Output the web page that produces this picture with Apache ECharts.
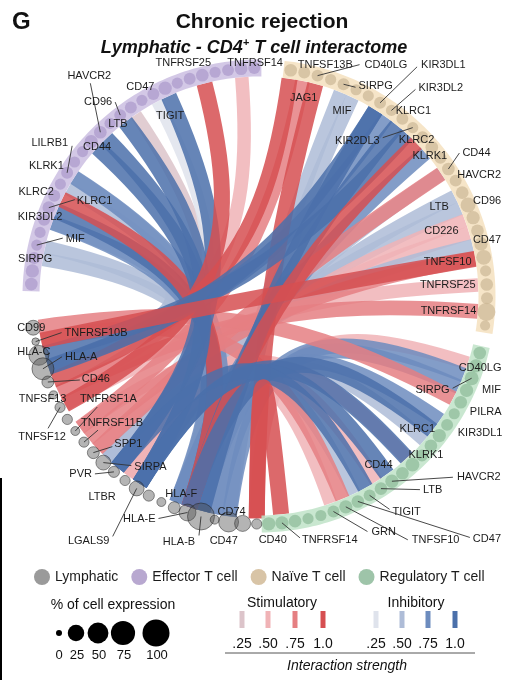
<!DOCTYPE html>
<html><head><meta charset="utf-8">
<script src="https://cdn.jsdelivr.net/npm/echarts@6/dist/echarts.min.js"></script>
<style>html,body{margin:0;padding:0;background:#fff}#c{width:518px;height:680px}</style>
</head><body><div id="c"></div>
<script>
// ================= DATA =================
// Node order along each arc ('' = unlabeled bubble)
const LYMPH_NODES = ['CD99','TNFRSF10B','HLA-C','HLA-A','CD46','TNFSF13','TNFSF12','','TNFRSF1A','TNFRSF11B','SPP1','SIRPA','PVR','LTBR','LGALS9','','','HLA-F','HLA-E','HLA-B','CD47','CD74','','CD40'];
const LYMPH_PCT   = [18,0.5,44,58,8,1,4,4,2,4,8,18,6,4,18,6,2,8,27,100,2,44,23,4];

const EFF_NODES = ['','','SIRPG','MIF','','KIR3DL2','KLRC1','KLRC2','KLRK1','LILRB1','','','CD44','HAVCR2','','CD96','LTB','','CD47','TIGIT','','','TNFRSF25','','','TNFRSF14',''];
const EFF_PCT   = [10,12,8,6,6,8,10,8,6,8,6,6,12,10,6,8,8,6,8,12,6,8,10,6,8,10,8];

const NAIVE_NODES = ['JAG1','TNFSF13B','CD40LG','','SIRPG','MIF','','KIR3DL1','KIR3DL2','KLRC1','KIR2DL3','KLRC2','KLRK1','','CD44','','HAVCR2','CD96','LTB','CD226','CD47','TNFSF10','','TNFRSF25','','TNFRSF14',''];
const NAIVE_PCT   = [10,8,8,6,8,6,6,8,6,8,6,8,10,8,10,8,10,18,12,10,12,18,6,10,8,33,4];

const REG_NODES = ['','CD40LG','SIRPG','MIF','PILRA','','KIR3DL1','KLRC1','KLRK1','','CD44','','HAVCR2','LTB','TIGIT','CD47','TNFSF10','GRN','','','','TNFRSF14',''];
const REG_PCT   = [10,12,14,12,10,6,8,12,10,8,14,10,12,10,8,10,12,8,6,6,10,12,12];

// Interactions: lymphatic partner, T-cell partner (group:name), kind (S=stimulatory, I=inhibitory), strength
const LINK_LYMPH = ['CD47','CD74','HLA-F','HLA-A','HLA-E','HLA-E','HLA-B','HLA-B','HLA-F','LGALS9','LGALS9','PVR','LTBR','SIRPA','PVR','TNFSF12','TNFSF13',
  'CD46','TNFRSF1A','CD40','CD47','CD74','HLA-B','HLA-A','HLA-A','HLA-E','HLA-C','HLA-E','HLA-F','LGALS9','SPP1','LGALS9','PVR','LTBR','PVR','SIRPA','TNFRSF10B','TNFRSF11B','TNFSF12','TNFSF13',
  'CD40','CD47','CD74','CD99','HLA-B','HLA-E','HLA-E','SPP1','LGALS9','LGALS9','LTBR','PVR','SIRPA','TNFRSF10B','TNFRSF1A','CD40'];
const LINK_TCELL = ['E:SIRPG','E:MIF','E:KIR3DL2','E:KIR3DL2','E:KLRC1','E:KLRC2','E:KLRK1','E:LILRB1','E:LILRB1','E:CD44','E:HAVCR2','E:CD96','E:LTB','E:CD47','E:TIGIT','E:TNFRSF25','E:TNFRSF14',
  'N:JAG1','N:TNFSF13B','N:CD40LG','N:SIRPG','N:MIF','N:KIR3DL1','N:KIR3DL1','N:KIR3DL2','N:KLRC1','N:KIR2DL3','N:KLRC2','N:KLRK1','N:CD44','N:CD44','N:HAVCR2','N:CD96','N:LTB','N:CD226','N:CD47','N:TNFSF10','N:TNFSF10','N:TNFRSF25','N:TNFRSF14',
  'R:CD40LG','R:SIRPG','R:MIF','R:PILRA','R:KIR3DL1','R:KLRC1','R:KLRK1','R:CD44','R:CD44','R:HAVCR2','R:LTB','R:TIGIT','R:CD47','R:TNFSF10','R:GRN','R:TNFRSF14'];
const LINK_KIND = ['I','I','I','I','I','S','I','I','I','I','I','I','S','I','I','S','S',
  'S','S','S','I','I','I','I','I','I','I','S','I','I','S','I','I','S','S','I','S','S','S','S',
  'S','I','I','S','I','I','I','S','I','I','S','I','I','S','S','S'];
const LINK_STRENGTH = [0.5,0.5,0.75,0.5,1,1,0.5,0.75,0.5,1,1,1,0.25,0.25,1,1,0.5,
  1,0.75,1,0.5,0.5,1,1,0.75,1,1,1,0.75,0.5,0.75,0.5,0.5,0.5,0.5,0.5,1,0.75,0.5,0.75,
  0.5,0.75,0.75,0.75,0.75,1,0.5,0.5,1,1,0.5,1,0.5,0.75,0.5,1];

const STRENGTH_TICKS = [0.25,0.5,0.75,1.0];
const STRENGTH_LABELS = ['.25','.50','.75','1.0'];
const EXPR_TICKS = [0,25,50,75,100];
const GROUP_NAMES = {L:'Lymphatic', E:'Effector T cell', N:'Naïve T cell', R:'Regulatory T cell'};

// ================= LAYOUT / STYLE =================
const FONT = '"Liberation Sans", Arial, Helvetica, sans-serif';
const NODES = {L:LYMPH_NODES, E:EFF_NODES, N:NAIVE_NODES, R:REG_NODES};
const PCTS  = {L:LYMPH_PCT, E:EFF_PCT, N:NAIVE_PCT, R:REG_PCT};
const ARC   = {L:[188,269.42], E:[177,91.2], N:[82,-7.44], R:[-14.5,-87.54]};
const STIM_COLORS  = ['#dcc4ca','#f0b3b6','#e57f82','#d64f51'];
const INHIB_COLORS = ['#dfe3ec','#aebcd7','#6d8cbe','#4b70aa'];
const BUBBLE_COLOR = {L:'rgba(75,75,75,0.52)', E:'rgba(168,148,200,0.8)', N:'rgba(202,182,148,0.85)', R:'rgba(138,184,150,0.85)'};
const BAND_COLOR   = {E:'rgba(200,186,224,0.8)', N:'rgba(244,224,190,0.85)', R:'rgba(192,227,200,0.85)'};
const LEGEND_COLOR = {L:'#9a9a9a', E:'#b8a8d0', N:'#d8c4a6', R:'#9ec4a9'};

// label placement: group, name, text offset dx, dy, align, leader end dx, dy
const LABEL_LAYOUT = [
 ['L','CD99',-2,0,'center'],['L','TNFRSF10B',29,-9,'left',26,-9],['L','HLA-C',-5,-3,'center'],['L','HLA-A',22,-12,'left',19,-12],
 ['L','CD46',34,-3,'left',32,-2],['L','TNFSF13',-11,4,'center'],['L','TNFSF12',-18,30,'center',-12,21],['L','TNFRSF1A',33,-32,'center',22,-24],
 ['L','TNFRSF11B',28,-19,'center',14,-12],['L','SPP1',21,-9,'left',19,-6],['L','SIRPA',31,4,'left',28,3],['L','PVR',-22,2,'right',-19,2],
 ['L','LTBR',-23,16,'center'],['L','LGALS9',-48,53,'center',-24,48],['L','HLA-F',7,-14,'center'],['L','HLA-E',-32,6,'right',-29,6],
 ['L','HLA-B',-22,25,'center',-2,19],['L','CD47',9,21,'center'],['L','CD74',3,-10,'center'],['L','CD40',16,16,'center'],
 ['E','SIRPG',1,1,'center'],['E','MIF',29,-6,'left',26,-7],['E','KIR3DL2',-4,-3,'center'],['E','KLRC1',28,-7,'left',26,-8],
 ['E','KLRC2',-18,-4,'center'],['E','KLRK1',-14,-18,'center'],['E','LILRB1',1,-30,'right',5,-27],['E','CD44',6,5,'center'],
 ['E','HAVCR2',-11,-56,'center',-10,-49],['E','CD96',-8,-13,'right',-5,-13],['E','LTB',-13,17,'center'],['E','CD47',-13,-7,'center'],
 ['E','TIGIT',5,28,'center'],['E','TNFRSF25',-19,-12,'center'],['E','TNFRSF14',14,-6,'center'],
 ['N','JAG1',13,28,'center'],['N','TNFSF13B',21,-8,'center'],['N','CD40LG',47,-11,'left',42,-11],['N','SIRPG',15,2,'left',12,3],
 ['N','MIF',-14,21,'center'],['N','KIR3DL1',41,-38,'left',37,-36],['N','KIR3DL2',27,-22,'left',24,-21],['N','KLRC1',11,-8,'center'],
 ['N','KIR2DL3',-33,13,'right',-30,10],['N','KLRC2',-6,3,'center'],['N','KLRK1',-2,9,'center'],['N','CD44',14,-16,'left',11,-16],
 ['N','HAVCR2',17,-18,'center'],['N','CD96',19,-4,'center'],['N','LTB',-34,-11,'center'],['N','CD226',-36,0,'center'],
 ['N','CD47',6,-4,'center'],['N','TNFSF10',-36,5,'center'],['N','TNFRSF25',-39,0,'center'],['N','TNFRSF14',-38,-1,'center'],
 ['R','CD40LG',4,2,'center'],['R','SIRPG',-22,12,'right',-19,10],['R','MIF',25,0,'center'],['R','PILRA',25,10,'center'],
 ['R','KIR3DL1',33,8,'center'],['R','KLRC1',-22,-7,'center'],['R','KLRK1',-5,9,'center'],['R','CD44',-34,0,'center'],
 ['R','HAVCR2',65,-4,'left',61,-4],['R','LTB',42,1,'left',39,1],['R','TIGIT',23,17,'left',20,14],['R','CD47',115,38,'left',112,36],
 ['R','TNFSF10',66,33,'left',62,33],['R','GRN',38,20,'left',34,20],['R','TNFRSF14',20,17,'left',18,15]
];

function norm(a){ return ((a % 360) + 360) % 360; }
function angleOf(g, i){ const [a,b] = ARC[g]; const n = NODES[g].length; return norm(a + (b - a) * i / (n - 1)); }
function angleByName(g, name){ return angleOf(g, NODES[g].indexOf(name)); }
function bubbleSize(p){ return 6 + 2.1 * Math.sqrt(p); }
function strengthIdx(s){ return STRENGTH_TICKS.indexOf(s); }

const chart = echarts.init(document.getElementById('c'));

// links drawn weakest first
const LINK_ORDER = LINK_LYMPH.map((_, i) => i).sort((a, b) => LINK_STRENGTH[a] - LINK_STRENGTH[b]);

const linkSeries = {
  type:'custom', coordinateSystem:'polar', silent:true, z:2,
  data: LINK_ORDER.map(i => [0.5, 0, i]),
  renderItem(params, api){
    const i = api.value(2);
    const lA = angleByName('L', LINK_LYMPH[i]);
    const [g, nm] = LINK_TCELL[i].split(':');
    const tA = angleByName(g, nm);
    const rL = 0.975, rT = 0.962, k = 0.78;
    const p0 = api.coord([rL, lA]), c1 = api.coord([rL*(1-k), lA]);
    const c2 = api.coord([rT*(1-k), tA]), p3 = api.coord([rT, tA]);
    const s = LINK_STRENGTH[i];
    const col = (LINK_KIND[i] === 'S' ? STIM_COLORS : INHIB_COLORS)[strengthIdx(s)];
    return {type:'bezierCurve',
      shape:{x1:p0[0], y1:p0[1], cpx1:c1[0], cpy1:c1[1], cpx2:c2[0], cpy2:c2[1], x2:p3[0], y2:p3[1]},
      style:{stroke:col, lineWidth:11 + 5*s, fill:null, opacity:0.85, lineCap:'butt'}};
  }
};

const BAND_GROUPS = ['E','N','R'];
const bandSeries = {
  type:'custom', coordinateSystem:'polar', silent:true, z:3,
  data: BAND_GROUPS.map((g, i) => [0.5, 0, i]),
  renderItem(params, api){
    const g = BAND_GROUPS[api.value(2)];
    const [a, b] = ARC[g]; const dir = b > a ? 1 : -1;
    const s = a - dir*1.8, e = b + dir*1.8;
    const pts = [];
    for (let j = 0; j <= 80; j++){ pts.push(api.coord([1, norm(s + (e - s) * j / 80)])); }
    return {type:'polyline', shape:{points:pts}, style:{stroke:BAND_COLOR[g], lineWidth:17, fill:null, lineCap:'butt', lineJoin:'round'}};
  }
};

const scatterSeries = ['L','E','N','R'].map(g => ({
  type:'scatter', coordinateSystem:'polar', name:GROUP_NAMES[g], silent:true, z:4,
  symbol:'circle',
  data: NODES[g].map((n, i) => [1, angleOf(g, i), PCTS[g][i]]),
  symbolSize: v => bubbleSize(v[2]),
  itemStyle: g === 'L'
    ? {color:BUBBLE_COLOR.L, borderColor:'rgba(30,30,30,0.6)', borderWidth:1}
    : {color:BUBBLE_COLOR[g], borderWidth:0},
  emphasis:{disabled:true}
}));

const labelSeries = {
  type:'custom', coordinateSystem:'polar', silent:true, z:6,
  data: LABEL_LAYOUT.map((_, i) => [0.5, 0, i]),
  renderItem(params, api){
    const L = LABEL_LAYOUT[api.value(2)];
    const [g, name, tx, ty, align, lx, ly] = L;
    const p = api.coord([1, angleByName(g, name)]);
    const children = [];
    if (lx !== undefined){
      children.push({type:'line', shape:{x1:p[0], y1:p[1], x2:p[0]+lx, y2:p[1]+ly}, style:{stroke:'#333', lineWidth:0.9}});
    }
    children.push({type:'text', x:p[0]+tx, y:p[1]+ty,
      style:{text:name, fill:'#1c1c1c', font:'11px ' + FONT, align:align, verticalAlign:'middle'}});
    return {type:'group', children};
  }
};

// ---------- legend graphics ----------
const graphics = [
  {type:'text', x:12, y:22, style:{text:'G', font:'bold 24px ' + FONT, fill:'#111', verticalAlign:'middle'}},
  {type:'text', x:262, y:22, style:{text:'Chronic rejection', font:'bold 21px ' + FONT, fill:'#111', align:'center', verticalAlign:'middle'}},
  {type:'text', x:254, y:48, style:{text:'{a|Lymphatic - CD4}{s|+}{a| T cell interactome}', align:'center', verticalAlign:'middle', fill:'#111',
     rich:{a:{font:'italic bold 18px ' + FONT, lineHeight:22, fill:'#111'}, s:{font:'italic bold 11px ' + FONT, lineHeight:22, verticalAlign:'top', padding:[0,0,8,0], fill:'#111'}}}},
  {type:'line', shape:{x1:1, y1:478, x2:1, y2:680}, style:{stroke:'#000', lineWidth:2}},
  {type:'text', x:113, y:605, style:{text:'% of cell expression', font:'14px ' + FONT, fill:'#111', align:'center', verticalAlign:'middle'}},
  {type:'text', x:282, y:603, style:{text:'Stimulatory', font:'14px ' + FONT, fill:'#111', align:'center', verticalAlign:'middle'}},
  {type:'text', x:416, y:603, style:{text:'Inhibitory', font:'14px ' + FONT, fill:'#111', align:'center', verticalAlign:'middle'}},
  {type:'line', shape:{x1:225, y1:653, x2:475, y2:653}, style:{stroke:'#555', lineWidth:1}},
  {type:'text', x:347, y:666, style:{text:'Interaction strength', font:'italic 14px ' + FONT, fill:'#111', align:'center', verticalAlign:'middle'}}
];
const EXPR_X = [59,76,98,123,156];
EXPR_TICKS.forEach((p, i) => {
  graphics.push({type:'circle', shape:{cx:EXPR_X[i], cy:633, r:bubbleSize(p)/2}, style:{fill:'#000'}});
  graphics.push({type:'text', x:EXPR_X[i] + (i ? 1 : 0), y:655, style:{text:String(p), font:'13px ' + FONT, fill:'#111', align:'center', verticalAlign:'middle'}});
});
const STIM_X = [242,268,295,323], INHIB_X = [376,402,428,455];
STRENGTH_TICKS.forEach((s, i) => {
  graphics.push({type:'rect', shape:{x:STIM_X[i]-2.5, y:611, width:5, height:17}, style:{fill:STIM_COLORS[i]}});
  graphics.push({type:'rect', shape:{x:INHIB_X[i]-2.5, y:611, width:5, height:17}, style:{fill:INHIB_COLORS[i]}});
  graphics.push({type:'text', x:STIM_X[i], y:644, style:{text:STRENGTH_LABELS[i], font:'14px ' + FONT, fill:'#111', align:'center', verticalAlign:'middle'}});
  graphics.push({type:'text', x:INHIB_X[i], y:644, style:{text:STRENGTH_LABELS[i], font:'14px ' + FONT, fill:'#111', align:'center', verticalAlign:'middle'}});
});

chart.setOption({
  animation:false,
  backgroundColor:'#fff',
  polar:{center:[259,296], radius:228},
  angleAxis:{type:'value', min:0, max:360, startAngle:0, clockwise:false, show:false},
  radiusAxis:{type:'value', min:0, max:1, show:false},
  legend:{
    top:564, left:29, itemWidth:16, itemHeight:16, itemGap:13, icon:'circle', selectedMode:false,
    textStyle:{fontSize:14, color:'#1c1c1c', fontFamily:FONT},
    data:['L','E','N','R'].map(g => ({name:GROUP_NAMES[g], itemStyle:{color:LEGEND_COLOR[g], borderWidth:0, opacity:1}}))
  },
  graphic:graphics,
  series:[linkSeries, bandSeries, ...scatterSeries, labelSeries]
});
</script>
</body></html>
